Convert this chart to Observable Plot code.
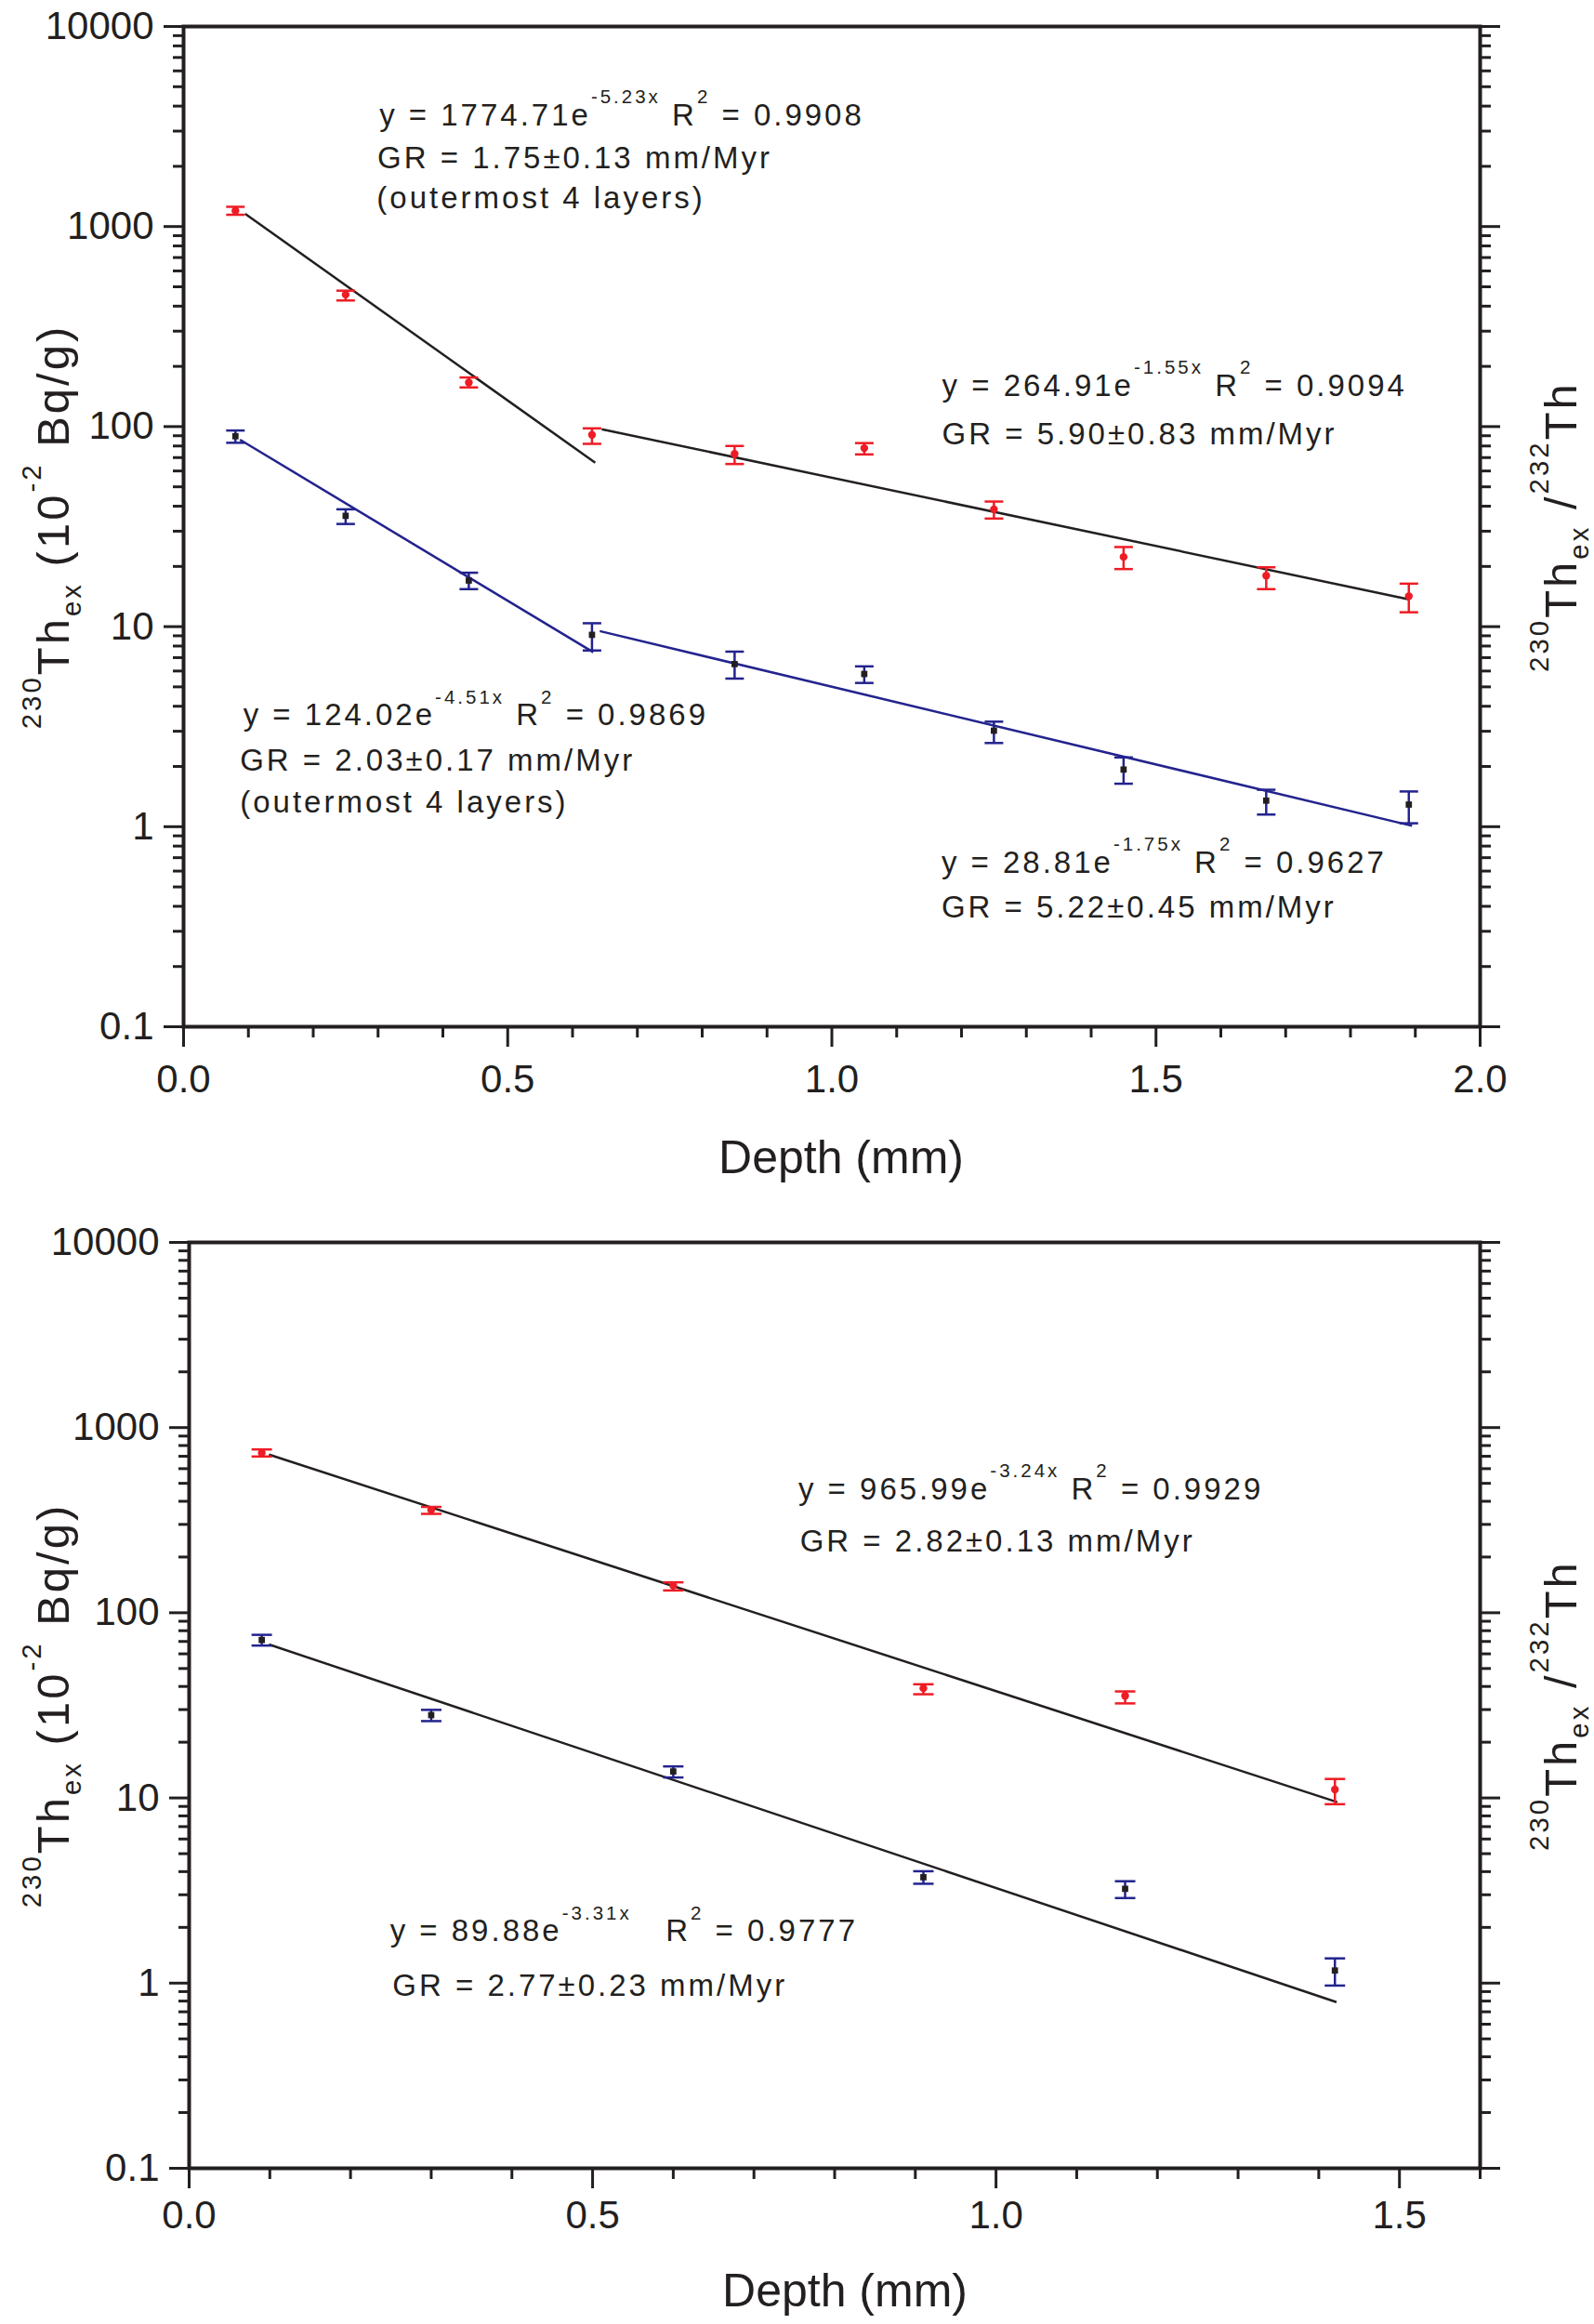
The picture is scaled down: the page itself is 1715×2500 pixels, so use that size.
<!DOCTYPE html>
<html>
<head>
<meta charset="utf-8">
<script src="https://cdn.jsdelivr.net/npm/d3@7"></script>
<script src="https://cdn.jsdelivr.net/npm/@observablehq/plot@0.6"></script>
<style>
  body { margin: 0; background: #fff; }
  #chart svg { display: block; }
</style>
</head>
<body>
<div id="chart"></div>
<script>
// ---- top panel (a) ----
const depthA = [0.08, 0.25, 0.44, 0.63, 0.85, 1.05, 1.25, 1.45, 1.67, 1.89];
const ratioA = [1200, 457, 166, 91, 73, 78, 38.6, 22.3, 18.0, 14.2];
const ratioLoA = [1145, 427, 157, 82, 65, 72.6, 34.7, 19.4, 15.4, 11.8];
const ratioHiA = [1255, 478, 176, 98, 80, 82.7, 42.2, 25.0, 19.8, 16.4];
const thA = [89.5, 35.8, 17.0, 9.1, 6.5, 5.8, 3.02, 1.93, 1.35, 1.29];
const thLoA = [83, 32.6, 15.4, 7.6, 5.5, 5.23, 2.62, 1.64, 1.15, 1.04];
const thHiA = [95.6, 38.6, 18.6, 10.4, 7.5, 6.33, 3.35, 2.22, 1.53, 1.5];
// fit segments: [x1, y1, x2, y2]
const fitRatioA = [[0.095, 1158, 0.635, 66], [0.645, 97, 1.89, 13.7]];
const fitThA = [[0.087, 86, 0.632, 7.45], [0.642, 9.5, 1.895, 1.01]];
const annTextA = [
  "y = 1774.71e^{-5.23x} R^{2} = 0.9908",
  "GR = 1.75±0.13 mm/Myr",
  "(outermost 4 layers)",
  "y = 264.91e^{-1.55x} R^{2} = 0.9094",
  "GR = 5.90±0.83 mm/Myr",
  "y = 124.02e^{-4.51x} R^{2} = 0.9869",
  "GR = 2.03±0.17 mm/Myr",
  "(outermost 4 layers)",
  "y = 28.81e^{-1.75x} R^{2} = 0.9627",
  "GR = 5.22±0.45 mm/Myr"
];
const annXA = [0.302, 0.299, 0.298, 1.170, 1.170, 0.092, 0.087, 0.087, 1.169, 1.169];
const annYA = [3214, 1963, 1239, 142, 81.9, 3.21, 1.897, 1.175, 0.590, 0.353];

// ---- bottom panel (b) ----
const depthB = [0.09, 0.30, 0.60, 0.91, 1.16, 1.42];
const ratioB = [729, 359, 140, 39.1, 35.6, 11.1];
const ratioLoB = [698, 342, 132, 36.3, 32.4, 9.25];
const ratioHiB = [762, 373, 146, 41.1, 37.6, 12.66];
const thB = [71.3, 28.0, 13.9, 3.73, 3.23, 1.17];
const thLoB = [66.5, 26.0, 12.9, 3.44, 2.88, 0.97];
const thHiB = [76, 29.9, 14.8, 4.02, 3.55, 1.36];
const fitRatioB = [[0.099, 715, 1.423, 9.49]];
const fitThB = [[0.099, 67.4, 1.422, 0.79]];
const annTextB = [
  "y = 965.99e^{-3.24x} R^{2} = 0.9929",
  "GR = 2.82±0.13 mm/Myr",
  "y = 89.88e^{-3.31x}   R^{2} = 0.9777",
  "GR = 2.77±0.23 mm/Myr"
];
const annXB = [0.755, 0.757, 0.249, 0.252];
const annYB = [411, 213, 1.679, 0.852];

// ---- ticks and labels ----
const yMajor = [0.1, 1, 10, 100, 1000, 10000];
const yMinor = [0.2, 0.3, 0.4, 0.5, 0.6, 0.7, 0.8, 0.9,
  2, 3, 4, 5, 6, 7, 8, 9,
  20, 30, 40, 50, 60, 70, 80, 90,
  200, 300, 400, 500, 600, 700, 800, 900,
  2000, 3000, 4000, 5000, 6000, 7000, 8000, 9000];
const xMajorA = [0, 0.5, 1, 1.5, 2];
const xMinorA = [0.1, 0.2, 0.3, 0.4, 0.6, 0.7, 0.8, 0.9, 1.1, 1.2, 1.3, 1.4, 1.6, 1.7, 1.8, 1.9];
const xMajorB = [0, 0.5, 1, 1.5];
const xMinorB = [0.1, 0.2, 0.3, 0.4, 0.6, 0.7, 0.8, 0.9, 1.1, 1.2, 1.3, 1.4, 1.6];
const xLabel = "Depth (mm)";
const yLabel = "^{230}Th_{ex} (10^{-2} Bq/g)";
const y2Label = "^{230}Th_{ex} /^{232}Th";

const ink = "#231f20";
const red = "#ee1c24";
const blue = "#23238e";
const font = "'Liberation Sans', Arial, Helvetica, sans-serif";

// horizontal bar used as error-bar cap
const capSymbol = {
  draw(context, size) {
    const r = Math.sqrt(size / Math.PI);
    context.moveTo(-r, 0);
    context.lineTo(r, 0);
  }
};

function panel(o) {
  const pts = o.depth.map((x, i) => ({
    x, ratio: o.ratio[i], rLo: o.ratioLo[i], rHi: o.ratioHi[i],
    th: o.th[i], tLo: o.thLo[i], tHi: o.thHi[i]
  }));
  const segs = (s) => s.map(([x1, y1, x2, y2]) => ({x1, y1, x2, y2}));
  const ann = o.annText.map((text, i) => ({text, x: o.annX[i], y: o.annY[i]}));
  const blank = () => "";

  return Plot.plot({
    width: 1715,
    height: o.height,
    marginLeft: o.left,
    marginRight: 123,
    marginTop: o.top,
    marginBottom: o.bottom,
    x: {domain: o.xDomain},
    y: {type: "log", domain: [0.1, 10000]},
    style: {fontFamily: font, fontSize: "42px", color: ink, background: "#fff", overflow: "visible"},
    marks: [
      Plot.link(segs(o.fitRatio), {x1: "x1", y1: "y1", x2: "x2", y2: "y2", stroke: ink, strokeWidth: 2.5}),
      Plot.link(segs(o.fitTh), {x1: "x1", y1: "y1", x2: "x2", y2: "y2", stroke: o.thFit, strokeWidth: 2.5}),

      Plot.ruleX(pts, {x: "x", y1: "rLo", y2: "rHi", stroke: red, strokeWidth: 2.5}),
      Plot.dot(pts, {x: "x", y: "rLo", symbol: capSymbol, r: o.cap, fill: "none", stroke: red, strokeWidth: 2.5}),
      Plot.dot(pts, {x: "x", y: "rHi", symbol: capSymbol, r: o.cap, fill: "none", stroke: red, strokeWidth: 2.5}),
      Plot.dot(pts, {x: "x", y: "ratio", r: 4.2, fill: red, stroke: "none"}),

      Plot.ruleX(pts, {x: "x", y1: "tLo", y2: "tHi", stroke: blue, strokeWidth: 2.5}),
      Plot.dot(pts, {x: "x", y: "tLo", symbol: capSymbol, r: o.cap, fill: "none", stroke: blue, strokeWidth: 2.5}),
      Plot.dot(pts, {x: "x", y: "tHi", symbol: capSymbol, r: o.cap, fill: "none", stroke: blue, strokeWidth: 2.5}),
      Plot.dot(pts, {x: "x", y: "th", symbol: "square", r: 3.8, fill: ink, stroke: "none"}),

      Plot.frame({stroke: ink, strokeWidth: 4}),

      Plot.axisY(yMajor, {anchor: "left", tickSize: 21, tickPadding: 11, stroke: ink, strokeWidth: 3, tickFormat: (d) => String(d), label: null}),
      Plot.axisY(yMinor, {anchor: "left", tickSize: 11, stroke: ink, strokeWidth: 3, tickFormat: blank, label: null}),
      Plot.axisY(yMajor, {anchor: "right", tickSize: 21, stroke: ink, strokeWidth: 3, tickFormat: blank, label: null}),
      Plot.axisY(yMinor, {anchor: "right", tickSize: 11, stroke: ink, strokeWidth: 3, tickFormat: blank, label: null}),
      Plot.axisX(o.xMajor, {anchor: "bottom", tickSize: 22, tickPadding: o.xPad, stroke: ink, strokeWidth: 3, tickFormat: d3.format(".1f"), label: null}),
      Plot.axisX(o.xMinor, {anchor: "bottom", tickSize: 12, stroke: ink, strokeWidth: 3, tickFormat: blank, label: null}),

      Plot.text(ann, {x: "x", y: "y", text: "text", textAnchor: "start", lineAnchor: "bottom", fontSize: 33, fill: ink}),

      Plot.text([xLabel], {frameAnchor: "bottom", dx: o.xLabelDx, dy: o.xLabelDy, lineAnchor: "bottom", fontSize: 50, fill: ink}),
      Plot.text([yLabel], {frameAnchor: "left", dx: -(o.left - 73), rotate: -90, lineAnchor: "bottom", fontSize: 49, fill: ink}),
      Plot.text([y2Label], {frameAnchor: "right", dx: 103, rotate: -90, lineAnchor: "bottom", fontSize: 49, fill: ink})
    ]
  });
}

// turn ^{..} and _{..} into raised / lowered tspans (svg must be in the page)
function rich(svg, strings, opt) {
  d3.select(svg).selectAll("text").each(function () {
    const s = this.textContent;
    if (!strings.includes(s)) return;
    const fs = parseFloat(getComputedStyle(this).fontSize) || opt.size;
    const sel = d3.select(this).text(null)
      .style("white-space", "pre")
      .attr("letter-spacing", opt.spacing);
    let shift = 0;
    s.split(/(\^\{[^}]*\}|_\{[^}]*\})/).filter((p) => p).forEach((p) => {
      let target = 0, txt = p, size = null;
      if (p.startsWith("^{")) { target = -opt.raise * fs; size = opt.scale * fs; txt = p.slice(2, -1); }
      else if (p.startsWith("_{")) { target = opt.drop * fs; size = opt.scale * fs; txt = p.slice(2, -1); }
      const t = sel.append("tspan").attr("dy", (target - shift).toFixed(1)).text(txt);
      if (size) t.attr("font-size", size.toFixed(1));
      shift = target;
    });
    if (opt.center) {
      // centre the whole run on its anchor by measuring it
      sel.attr("text-anchor", "start").attr("x", 0);
      const b = this.getBBox();
      sel.attr("x", (-(b.x + b.width / 2)).toFixed(1));
    }
  });
}

const chartA = panel({
  height: 1290, left: 197, top: 28, bottom: 186, xDomain: [0, 2],
  depth: depthA, ratio: ratioA, ratioLo: ratioLoA, ratioHi: ratioHiA,
  th: thA, thLo: thLoA, thHi: thHiA,
  fitRatio: fitRatioA, fitTh: fitThA, thFit: blue,
  annText: annTextA, annX: annXA, annY: annYA,
  xMajor: xMajorA, xMinor: xMinorA, xPad: 19, cap: 10,
  xLabelDx: 10, xLabelDy: 157
});
const chartB = panel({
  height: 1210, left: 203, top: 46, bottom: 168, xDomain: [0, 1.6],
  depth: depthB, ratio: ratioB, ratioLo: ratioLoB, ratioHi: ratioHiB,
  th: thB, thLo: thLoB, thHi: thHiB,
  fitRatio: fitRatioB, fitTh: fitThB, thFit: ink,
  annText: annTextB, annX: annXB, annY: annYB,
  xMajor: xMajorB, xMinor: xMinorB, xPad: 13, cap: 11,
  xLabelDx: 11, xLabelDy: 148
});

for (const chart of [chartA, chartB]) {
  document.getElementById("chart").appendChild(chart);
  rich(chart, [...annTextA, ...annTextB], {size: 33, spacing: 3, raise: 0.72, scale: 0.62, drop: 0.28});
  rich(chart, [yLabel, y2Label], {size: 49, spacing: 3, raise: 0.6, scale: 0.6, drop: 0.28, center: true});
}
</script>
</body>
</html>
